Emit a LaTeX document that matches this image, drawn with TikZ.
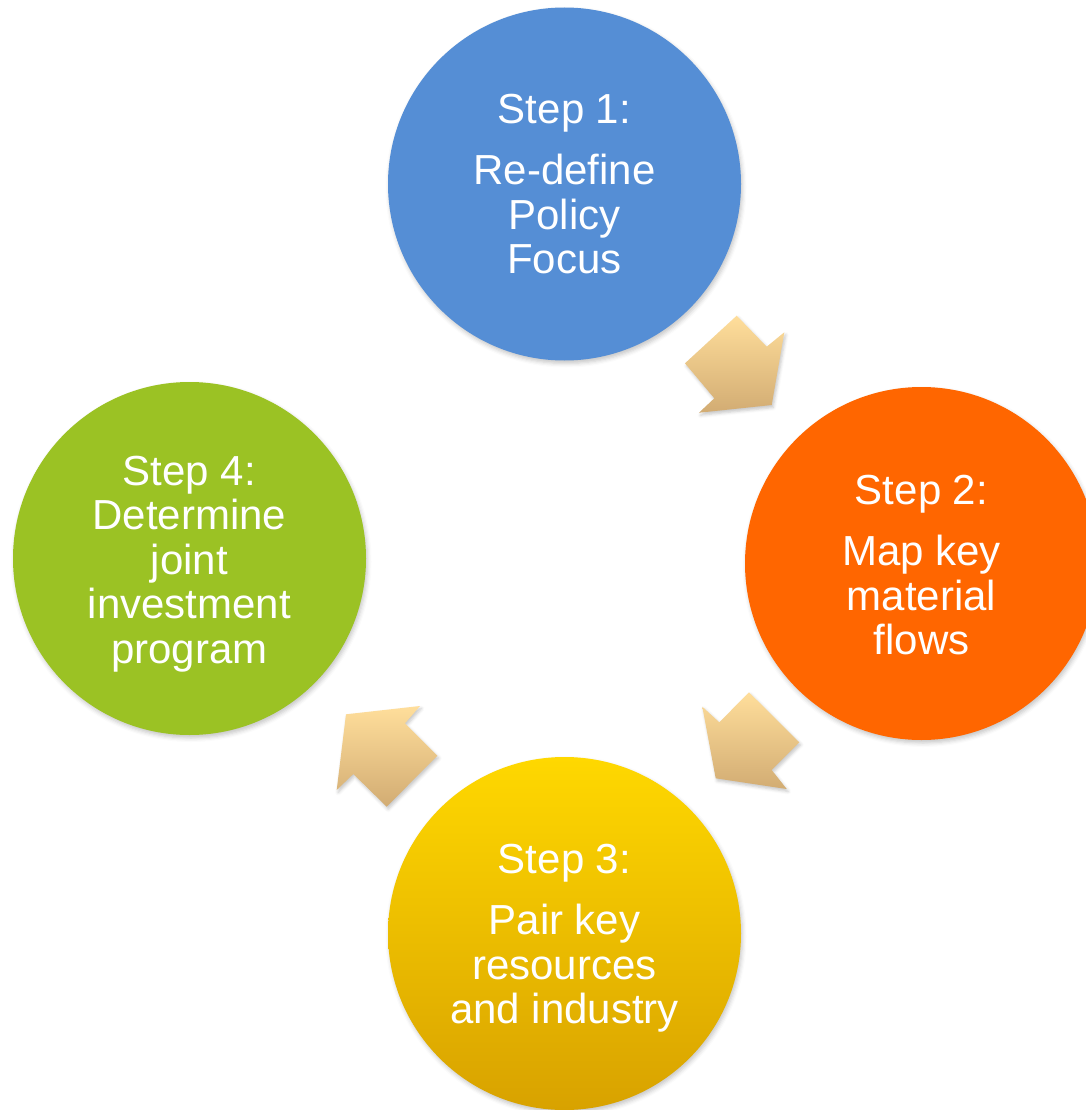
\documentclass[tikz,border=0pt]{standalone}
\usepackage{fontspec}
\setmainfont{Liberation Sans}
\usetikzlibrary{shadows.blur}
\definecolor{stepblue}{RGB}{85,142,213}
\definecolor{steporange}{RGB}{255,102,0}
\definecolor{stepgreen}{RGB}{155,194,36}
\definecolor{yelltop}{RGB}{255,216,0}
\definecolor{yellbot}{RGB}{216,162,0}
\definecolor{arrtop}{RGB}{255,222,155}
\definecolor{arrbot}{RGB}{210,172,115}
\tikzset{
  stepcircle/.style={circle, minimum size=353pt, inner sep=0pt, draw=none,
    blur shadow={shadow xshift=1.5pt, shadow yshift=-3pt, shadow blur radius=4pt, shadow opacity=22}},
  steptext/.style={text=white, align=center, inner sep=0pt, anchor=north,
    font=\fontsize{42}{44.5}\selectfont},
  blockarrow/.style={top color=arrtop, bottom color=arrbot, draw=none,
    blur shadow={shadow xshift=1.5pt, shadow yshift=-2.5pt, shadow blur radius=3pt, shadow opacity=22}}
}
\begin{document}
\begin{tikzpicture}[x=1pt,y=-1pt]
\useasboundingbox (0,0) rectangle (1085,1110);
% circles
\node[stepcircle, fill=stepblue] (c1) at (564.5,184) {};
\node[stepcircle, fill=steporange] (c2) at (921.5,563.5) {};
\node[stepcircle, top color=yelltop, bottom color=yellbot] (c3) at (564.5,933.5) {};
\node[stepcircle, fill=stepgreen] (c4) at (189.5,558.5) {};
% texts
\node[steptext] (t1) at (564.5,94.4) {Step 1:\\[16.5pt]Re-define\\Policy\\Focus};
\node[steptext] (t2) at (921.5,475) {Step 2:\\[16.5pt]Map key\\material\\flows};
\node[steptext] (t3) at (564.5,844.2) {Step 3:\\[16.5pt]Pair key\\resources\\and industry};
\node[steptext] (t4) at (189.5,455.8) {Step 4:\\Determine\\joint\\investment\\program};
% block arrows
\path[blockarrow] (736.7,315.7) -- (766.7,346.7) -- (784.3,332.3) -- (771.7,405)
  -- (699,412.7) -- (714.3,398.3) -- (685,363.3) -- cycle;
\path[blockarrow] (702.3,706.7) -- (719.3,722.3) -- (749,692.3) -- (799.3,742.3)
  -- (771.7,770) -- (786.7,789) -- (715.7,778.3) -- cycle;
\path[blockarrow] (346,714.3) -- (420,706) -- (405,723.3) -- (437.3,755.7)
  -- (386.7,806.7) -- (353.3,774) -- (336.7,790) -- cycle;
\end{tikzpicture}
\end{document}
